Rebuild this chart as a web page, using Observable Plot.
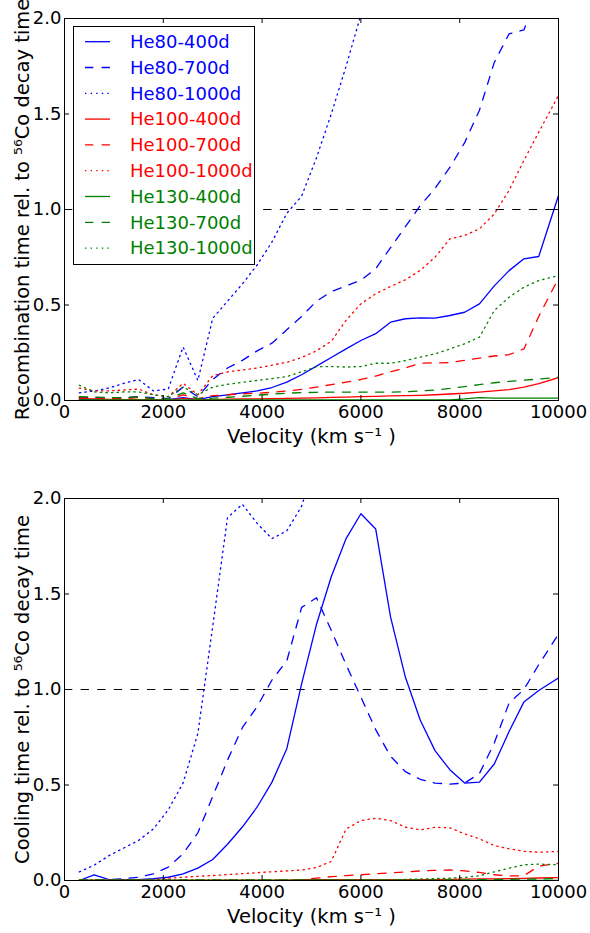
<!DOCTYPE html>
<html><head><meta charset="utf-8">
<script src="https://cdn.jsdelivr.net/npm/d3@7"></script>
<script src="https://cdn.jsdelivr.net/npm/@observablehq/plot@0.6"></script>
<style>
body{margin:0;background:#fff;}
#wrap{position:relative;width:590px;height:933px;}
#wrap svg{display:block;}
#legend{position:absolute;left:73px;top:26px;}
</style>
</head><body><div id="wrap"></div>
<script>
// ---- data ----
const velocity = [300,600,900,1200,1500,1800,2100,2400,2700,3000,3300,3600,3900,4200,4500,4800,5100,5400,5700,6000,6300,6600,6900,7200,7500,7800,8100,8400,8700,9000,9300,9600,10000];
const seriesNames = ["He80-400d","He80-700d","He80-1000d","He100-400d","He100-700d","He100-1000d","He130-400d","He130-700d","He130-1000d"];
const xTicks = [0,2000,4000,6000,8000,10000];
const yTicks = [0,0.5,1,1.5,2];
const refLevel = [1];
const xLabel = "Velocity (km s\u207B\u00B9 )";
const yLabelTop = "Recombination time rel. to \u2075\u2076Co decay time";
const yLabelBottom = "Cooling time rel. to \u2075\u2076Co decay time";

// Recombination panel
const recHe80_400 = [0.005,0.005,0.005,0.005,0.005,0.005,0.004,0.015,0.005,0.02, 0.03,0.04,0.05,0.068,0.096,0.135,0.18,0.225,0.27,0.314, 0.35,0.41,0.428,0.433,0.431,0.445,0.462,0.506,0.60,0.68, 0.742,0.754,1.073];
const recHe80_700 = [0.015,0.015,0.015,0.015,0.02,0.015,0.01,0.07,0.02,0.11, 0.17,0.21,0.26,0.30,0.37,0.44,0.52,0.57,0.60,0.63, 0.69,0.80,0.91,1.02,1.11,1.22,1.35,1.52,1.77,1.92, 1.94,2.15,null];
const recHe80_1000 = [0.04,0.05,0.065,0.09,0.11,0.05,0.06,0.28,0.105,0.43, 0.52,0.61,0.71,0.83,0.98,1.07,1.27,1.50,1.75,2.02, null,null,null,null,null,null,null,null,null,null, null,null,null];
const recHe100_400 = [0.01,0.008,0.006,0.005,0.005,0.004,0.003,0.01,0.004,0.005, 0.007,0.008,0.009,0.01,0.011,0.012,0.014,0.016,0.018,0.02, 0.022,0.024,0.025,0.027,0.03,0.034,0.038,0.044,0.05,0.057, 0.07,0.088,0.12];
const recHe100_700 = [0.015,0.01,0.01,0.01,0.015,0.01,0.005,0.03,0.01,0.025, 0.03,0.035,0.038,0.043,0.05,0.058,0.07,0.083,0.096,0.11, 0.128,0.15,0.17,0.195,0.197,0.198,0.21,0.222,0.233,0.24, 0.27,0.44,0.64];
const recHe100_1000 = [0.065,0.05,0.05,0.055,0.06,0.03,0.02,0.09,0.03,0.13, 0.15,0.16,0.17,0.185,0.20,0.225,0.26,0.31,0.42,0.506, 0.559,0.597,0.632,0.681,0.75,0.846,0.864,0.899,0.977,1.10, 1.257,1.405,1.597];
const recHe130_400 = [0.003,0.003,0.003,0.003,0.003,0.003,0.003,0.003,0.003,0.003, 0.003,0.003,0.003,0.003,0.003,0.003,0.003,0.003,0.003,0.003, 0.003,0.003,0.003,0.003,0.003,0.003,0.008,0.015,0.012,0.012, 0.012,0.012,0.012];
const recHe130_700 = [0.02,0.018,0.015,0.015,0.02,0.01,0.008,0.04,0.01,0.012, 0.017,0.022,0.028,0.033,0.038,0.041,0.043,0.044,0.044,0.044, 0.044,0.044,0.045,0.05,0.055,0.063,0.073,0.083,0.093,0.1, 0.107,0.112,0.122];
const recHe130_1000 = [0.08,0.045,0.04,0.045,0.045,0.03,0.02,0.07,0.03,0.07, 0.085,0.095,0.105,0.115,0.125,0.15,0.177,0.178,0.175,0.178, 0.195,0.195,0.209,0.227,0.244,0.27,0.297,0.332,0.471,0.541, 0.593,0.628,0.654];

// Cooling panel
const coolHe80_400 = [0,0.03,0.005,0.005,0.005,0.01,0.017,0.035,0.065,0.11, 0.19,0.28,0.385,0.515,0.69,1.03,1.34,1.59,1.79,1.92, 1.84,1.38,1.065,0.84,0.68,0.58,0.51,0.515,0.61,0.78, 0.935,0.995,1.06];
const coolHe80_700 = [0,0.003,0.005,0.01,0.017,0.035,0.07,0.14,0.25,0.44, 0.63,0.80,0.91,1.05,1.15,1.43,1.48,1.31,1.13,0.96, 0.79,0.65,0.57,0.53,0.51,0.505,0.51,0.56,0.72,0.93, 1.0,1.13,1.29];
const coolHe80_1000 = [0.045,0.08,0.13,0.17,0.21,0.27,0.37,0.51,0.77,1.33, 1.90,1.97,1.87,1.79,1.83,1.96,2.2,null,null,null, null,null,null,null,null,null,null,null,null,null, null,null,null];
const coolHe100_400 = [0.002,0.002,0.002,0.002,0.002,0.002,0.002,0.002,0.002,0.002, 0.002,0.002,0.002,0.002,0.002,0.004,0.004,0.004,0.004,0.004, 0.004,0.004,0.004,0.004,0.005,0.006,0.007,0.008,0.009,0.01, 0.011,0.013,0.015];
const coolHe100_700 = [0.002,0.002,0.002,0.002,0.002,0.002,0.002,0.002,0.002,0.002, 0.002,0.002,0.002,0.002,0.002,0.004,0.012,0.02,0.026,0.03, 0.035,0.04,0.045,0.05,0.053,0.055,0.05,0.042,0.03,0.024, 0.025,0.075,0.09];
const coolHe100_1000 = [0.001,0.001,0.002,0.002,0.003,0.005,0.012,0.017,0.022,0.026, 0.031,0.036,0.041,0.046,0.05,0.055,0.068,0.10,0.27,0.314, 0.326,0.314,0.279,0.265,0.279,0.276,0.244,0.218,0.183,0.166, 0.153,0.148,0.152];
const coolHe130_400 = [0.001,0.001,0.001,0.001,0.001,0.001,0.001,0.001,0.001,0.001, 0.001,0.001,0.001,0.001,0.001,0.001,0.001,0.001,0.001,0.001, 0.001,0.001,0.001,0.001,0.001,0.001,0.001,0.001,0.001,0.001, 0.001,0.001,0.001];
const coolHe130_700 = [0.002,0.002,0.002,0.002,0.002,0.002,0.002,0.002,0.002,0.002, 0.002,0.002,0.002,0.002,0.002,0.002,0.002,0.002,0.002,0.002, 0.002,0.002,0.002,0.002,0.002,0.003,0.003,0.004,0.005,0.006, 0.007,0.008,0.01];
const coolHe130_1000 = [0.003,0.003,0.003,0.003,0.003,0.003,0.003,0.003,0.003,0.003, 0.003,0.003,0.003,0.003,0.003,0.003,0.003,0.003,0.003,0.003, 0.003,0.003,0.006,0.008,0.01,0.012,0.016,0.025,0.045,0.065, 0.082,0.086,0.082];

// ---- styles ----
const seriesColor = ["#0000ff","#0000ff","#0000ff","#ff0000","#ff0000","#ff0000","#008000","#008000","#008000"];
const DASHED = "8.3,8.3", DOTTED = "1.4,4.2";
const seriesDash = [null, DASHED, DOTTED, null, DASHED, DOTTED, null, DASHED, DOTTED];
const FONT = "DejaVu Sans";

function panel(seriesVals, yLabel, height, marginTop, marginBottom) {
  const frameH = height - marginTop - marginBottom;
  const frameW = 590 - 64 - 32;
  const lines = seriesVals.map((vals, k) => {
    const rows = velocity.map((v, i) => ({v, y: vals[i]})).filter(d => d.y != null);
    return Plot.line(rows, {x: "v", y: "y", stroke: seriesColor[k], strokeWidth: 1.3,
      strokeDasharray: seriesDash[k] || undefined, clip: true});
  });
  return Plot.plot({
    width: 590, height, marginTop, marginBottom, marginLeft: 64, marginRight: 32,
    style: {fontFamily: FONT, fontSize: "18px", color: "black", background: "white", overflow: "visible"},
    x: {domain: [0, 10000]},
    y: {domain: [0, 2]},
    marks: [
      Plot.ruleY(refLevel, {y: d => d, stroke: "black", strokeWidth: 1.1, strokeDasharray: DASHED}),
      ...lines,
      Plot.frame({stroke: "black", strokeWidth: 1}),
      Plot.tickX(xTicks, {x: d => d, insetTop: frameH - 5, stroke: "black"}),
      Plot.tickX(xTicks, {x: d => d, insetBottom: frameH - 5, stroke: "black"}),
      Plot.tickY(yTicks, {y: d => d, insetRight: frameW - 5, stroke: "black"}),
      Plot.tickY(yTicks, {y: d => d, insetLeft: frameW - 5, stroke: "black"}),
      Plot.axisX(xTicks, {tickSize: 0, tickPadding: 5, tickFormat: d => String(d), fontSize: 18, label: null}),
      Plot.axisY(yTicks, {tickSize: 0, tickPadding: 3, tickFormat: d => d.toFixed(1), fontSize: 18, label: null}),
      Plot.text([xLabel], {frameAnchor: "bottom", dy: 42, text: d => d, fontSize: 19.5, fill: "black"}),
      Plot.text([yLabel], {frameAnchor: "left", dx: -42, rotate: -90, textAnchor: "middle", text: d => d, fontSize: 19.5, fill: "black"})
    ]
  });
}

const wrap = document.getElementById("wrap");
wrap.appendChild(panel([recHe80_400, recHe80_700, recHe80_1000, recHe100_400, recHe100_700, recHe100_1000, recHe130_400, recHe130_700, recHe130_1000], yLabelTop, 466, 18, 66));
wrap.appendChild(panel([coolHe80_400, coolHe80_700, coolHe80_1000, coolHe100_400, coolHe100_700, coolHe100_1000, coolHe130_400, coolHe130_700, coolHe130_1000], yLabelBottom, 467, 32, 53));

// ---- legend ----
const LW = 182, LH = 239, rowH = 25.8, row0 = 15.7;
const leg = d3.create("svg").attr("id", "legend").attr("width", LW).attr("height", LH)
  .style("font-family", FONT).style("font-size", "18px");
leg.append("rect").attr("x", 0.5).attr("y", 0.5).attr("width", LW - 1).attr("height", LH - 1)
  .attr("fill", "white").attr("stroke", "black").attr("stroke-width", 1);
seriesNames.forEach((name, k) => {
  const y = row0 + k * rowH;
  leg.append("line").attr("x1", 12).attr("x2", 37).attr("y1", y).attr("y2", y)
    .attr("stroke", seriesColor[k]).attr("stroke-width", 1.3)
    .attr("stroke-dasharray", seriesDash[k] || null);
  leg.append("text").attr("x", 57).attr("y", y).attr("dy", "0.35em")
    .attr("fill", seriesColor[k]).text(name);
});
wrap.appendChild(leg.node());
</script>
</body></html>
